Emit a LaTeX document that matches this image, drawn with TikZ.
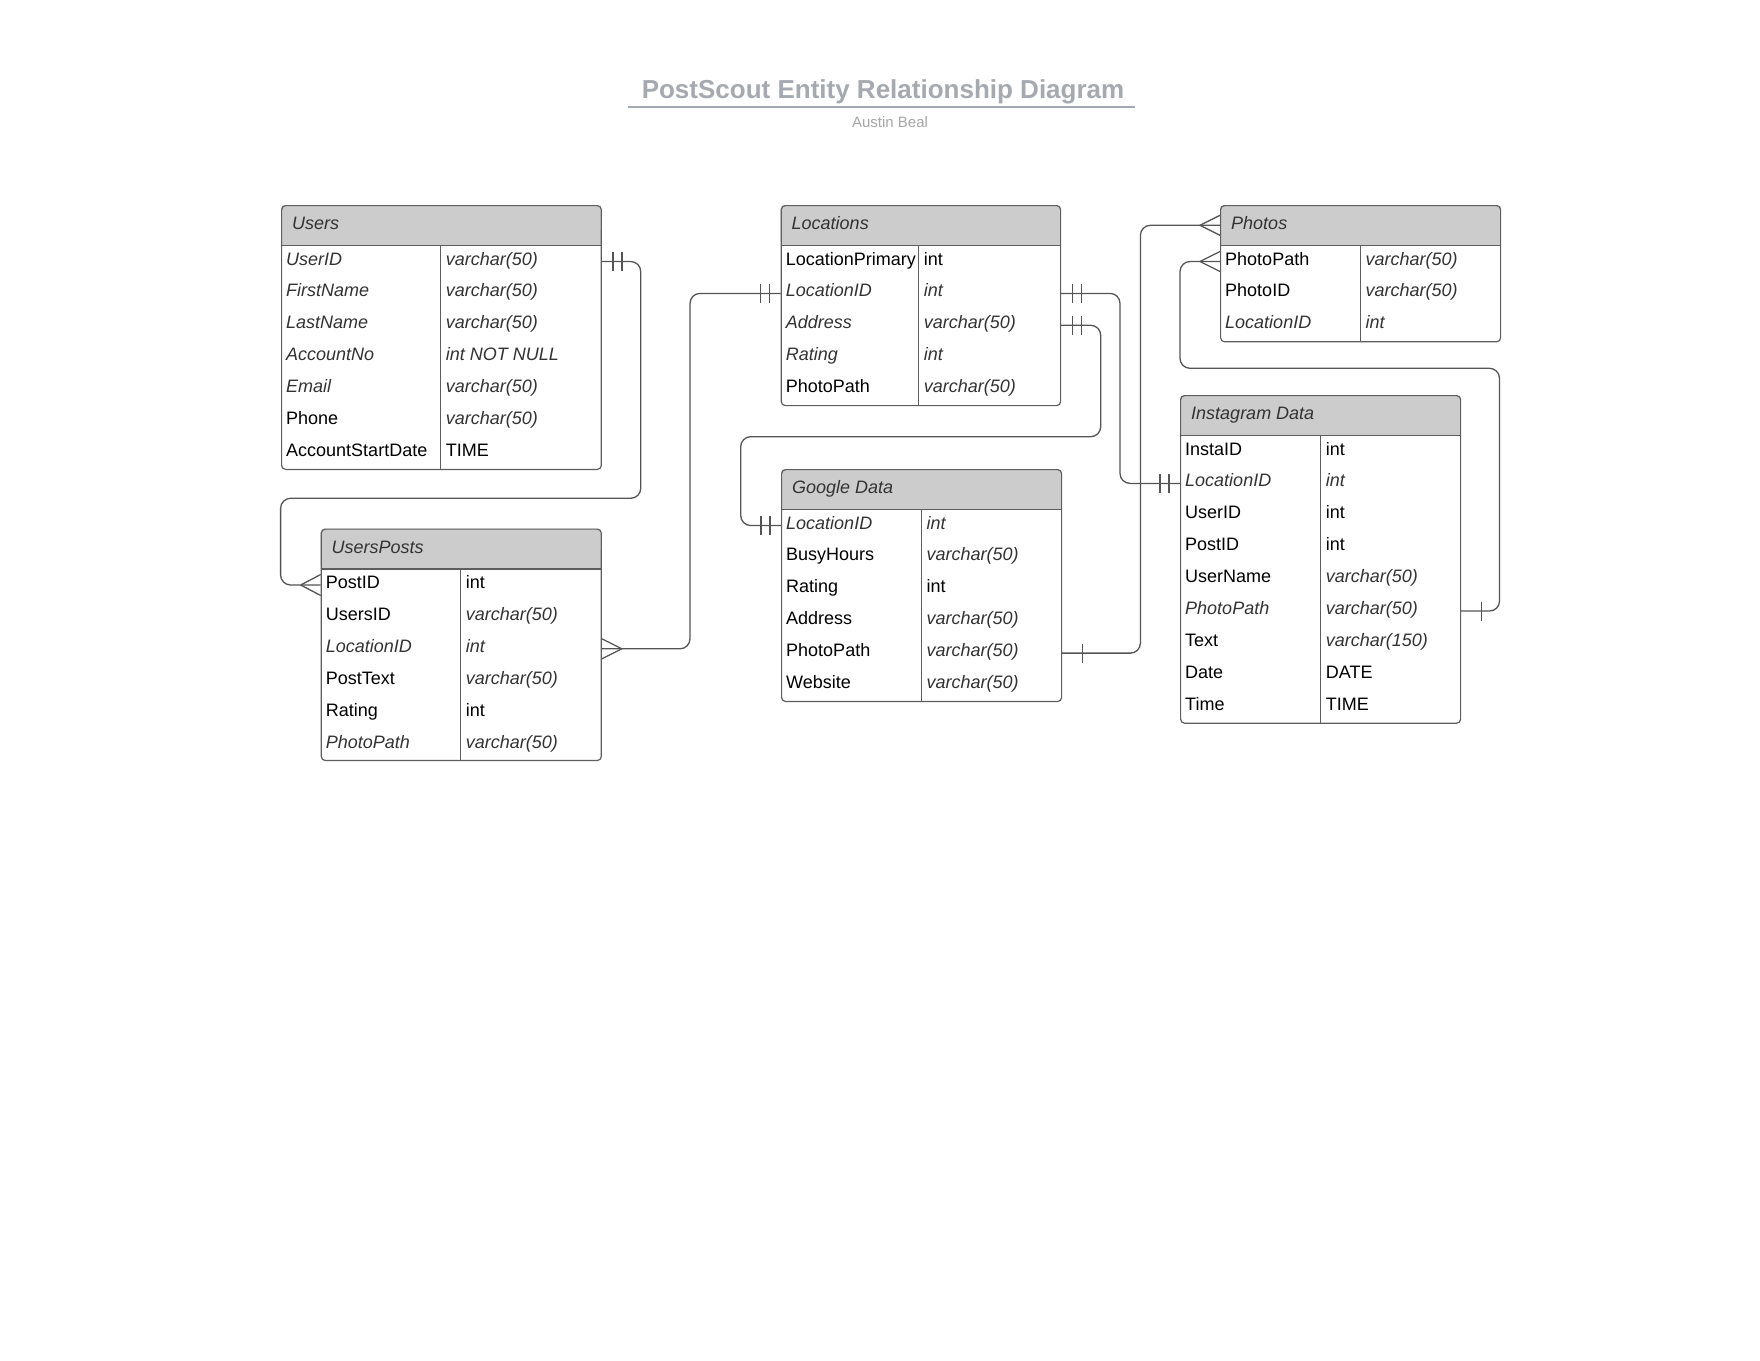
\documentclass[tikz,border=0pt]{standalone}
\usepackage{fontspec}
\setmainfont{Liberation Sans}
\begin{document}
\begin{tikzpicture}[x=1pt, y=-1pt,
  tbl/.style={draw=framecol, line width=1.2pt, rounded corners=4pt, anchor=north west, inner sep=0pt},
  hdr/.style={anchor=west, inner sep=0pt, text height=13pt, text depth=4.5pt, text=hdrtext, font=\fontsize{18}{20}\selectfont\itshape},
  fld/.style={anchor=west, inner sep=0pt, text height=13pt, text depth=6pt, text=black, font=\fontsize{18}{20}\selectfont},
  fldi/.style={fld, text=itext, font=\fontsize{18}{20}\selectfont\itshape},
  sep/.style={draw=framecol, line width=1.2pt},
  rel/.style={draw=relcol, line width=1.3pt, rounded corners=10pt},
  endln/.style={draw=relcol, line width=1.3pt}]
\definecolor{framecol}{HTML}{5E5E5E}
\definecolor{hdrfill}{HTML}{CCCCCC}
\definecolor{hdrtext}{HTML}{333333}
\definecolor{itext}{HTML}{333333}
\definecolor{relcol}{HTML}{555555}
\definecolor{titlecol}{HTML}{A5A9B0}
\definecolor{subcol}{HTML}{A6A6A6}
\fill[white] (0,0) rectangle (1760,1360);
\useasboundingbox (0,0) rectangle (1760,1360);
\node[anchor=base, inner sep=0pt, text=titlecol, font=\fontsize{26}{30}\selectfont\bfseries] (title) at (883,98.8) {PostScout Entity Relationship Diagram};
\draw[titlecol, line width=2pt] (628,107.3) -- (1135,107.3);
\node[anchor=base, inner sep=0pt, text=subcol, font=\fontsize{15}{17}\selectfont] (author) at (890,127.8) {Austin Beal};
\fill[hdrfill, rounded corners=4pt] (281,205) rectangle (600.7,245.5); \fill[hdrfill] (281,230) rectangle (600.7,245.5);
\node[tbl, minimum width=319.7pt, minimum height=263.8pt] (users) at (281,205) {};
\draw[sep] (281,245.5) -- (600.7,245.5) (440.7,245.5) -- (440.7,468.8);
\node[hdr] (users-title) at (292,225.3) {Users};
\node[fldi] (users-userid) at (286,261.5) {UserID}; \node[fldi] (users-userid-t) at (445.7,261.5) {varchar(50)};
\node[fldi] (users-first) at (286,293.4) {FirstName}; \node[fldi] (users-first-t) at (445.7,293.4) {varchar(50)};
\node[fldi] (users-last) at (286,325.3) {LastName}; \node[fldi] (users-last-t) at (445.7,325.3) {varchar(50)};
\node[fldi] (users-acc) at (286,357.2) {AccountNo}; \node[fldi] (users-acc-t) at (445.7,357.2) {int NOT NULL};
\node[fldi] (users-email) at (286,389.1) {Email}; \node[fldi] (users-email-t) at (445.7,389.1) {varchar(50)};
\node[fld] (users-phone) at (286,421) {Phone}; \node[fldi] (users-phone-t) at (445.7,421) {varchar(50)};
\node[fld] (users-start) at (286,452.9) {AccountStartDate}; \node[fld] (users-start-t) at (445.7,452.9) {TIME};
\fill[hdrfill, rounded corners=4pt] (320.7,528.5) rectangle (600.7,569); \fill[hdrfill] (320.7,550) rectangle (600.7,569);
\node[tbl, minimum width=280pt, minimum height=231.4pt] (posts) at (320.7,528.5) {};
\draw[sep] (320.7,569) -- (600.7,569) (460.7,569) -- (460.7,759.9);
\node[hdr] (posts-title) at (331.5,548.8) {UsersPosts};
\node[fld] (posts-postid) at (325.7,585) {PostID}; \node[fld] (posts-postid-t) at (465.7,585) {int};
\node[fld] (posts-usersid) at (325.7,616.9) {UsersID}; \node[fldi] (posts-usersid-t) at (465.7,616.9) {varchar(50)};
\node[fldi] (posts-locid) at (325.7,648.8) {LocationID}; \node[fldi] (posts-locid-t) at (465.7,648.8) {int};
\node[fld] (posts-text) at (325.7,680.7) {PostText}; \node[fldi] (posts-text-t) at (465.7,680.7) {varchar(50)};
\node[fld] (posts-rating) at (325.7,712.6) {Rating}; \node[fld] (posts-rating-t) at (465.7,712.6) {int};
\node[fldi] (posts-photo) at (325.7,744.5) {PhotoPath}; \node[fldi] (posts-photo-t) at (465.7,744.5) {varchar(50)};
\fill[hdrfill, rounded corners=4pt] (780.7,205) rectangle (1060,245.5); \fill[hdrfill] (780.7,230) rectangle (1060,245.5);
\node[tbl, minimum width=279.3pt, minimum height=200pt] (loc) at (780.7,205) {};
\draw[sep] (780.7,245.5) -- (1060,245.5) (918.7,245.5) -- (918.7,405);
\node[hdr] (loc-title) at (791.5,225.3) {Locations};
\node[fld] (loc-primary) at (785.7,261.5) {LocationPrimary}; \node[fld] (loc-primary-t) at (923.7,261.5) {int};
\node[fldi] (loc-locid) at (785.7,293.4) {LocationID}; \node[fldi] (loc-locid-t) at (923.7,293.4) {int};
\node[fldi] (loc-address) at (785.7,325.3) {Address}; \node[fldi] (loc-address-t) at (923.7,325.3) {varchar(50)};
\node[fldi] (loc-rating) at (785.7,357.2) {Rating}; \node[fldi] (loc-rating-t) at (923.7,357.2) {int};
\node[fld] (loc-photo) at (785.7,389.1) {PhotoPath}; \node[fldi] (loc-photo-t) at (923.7,389.1) {varchar(50)};
\fill[hdrfill, rounded corners=4pt] (781,469) rectangle (1061,509.5); \fill[hdrfill] (781,490) rectangle (1061,509.5);
\node[tbl, minimum width=280pt, minimum height=231.9pt] (google) at (781,469) {};
\draw[sep] (781,509.5) -- (1061,509.5) (921.3,509.5) -- (921.3,700.9);
\node[hdr] (google-title) at (792,489.3) {Google Data};
\node[fldi] (google-locid) at (786,525.5) {LocationID}; \node[fldi] (google-locid-t) at (926.3,525.5) {int};
\node[fld] (google-busy) at (786,557.4) {BusyHours}; \node[fldi] (google-busy-t) at (926.3,557.4) {varchar(50)};
\node[fld] (google-rating) at (786,589.3) {Rating}; \node[fld] (google-rating-t) at (926.3,589.3) {int};
\node[fld] (google-address) at (786,621.2) {Address}; \node[fldi] (google-address-t) at (926.3,621.2) {varchar(50)};
\node[fld] (google-photopath) at (786,653.1) {PhotoPath}; \node[fldi] (google-photopath-t) at (926.3,653.1) {varchar(50)};
\node[fld] (google-web) at (786,685) {Website}; \node[fldi] (google-web-t) at (926.3,685) {varchar(50)};
\fill[hdrfill, rounded corners=4pt] (1220,205) rectangle (1500,245.5); \fill[hdrfill] (1220,230) rectangle (1500,245.5);
\node[tbl, minimum width=280pt, minimum height=136.2pt] (photos) at (1220,205) {};
\draw[sep] (1220,245.5) -- (1500,245.5) (1360.3,245.5) -- (1360.3,341.2);
\node[hdr] (photos-title) at (1231,225.3) {Photos};
\node[fld] (photos-photopath) at (1225,261.5) {PhotoPath}; \node[fldi] (photos-photopath-t) at (1365.3,261.5) {varchar(50)};
\node[fld] (photos-photoid) at (1225,293.4) {PhotoID}; \node[fldi] (photos-photoid-t) at (1365.3,293.4) {varchar(50)};
\node[fldi] (photos-locid) at (1225,325.3) {LocationID}; \node[fldi] (photos-locid-t) at (1365.3,325.3) {int};
\fill[hdrfill, rounded corners=4pt] (1180,395) rectangle (1460,435.5); \fill[hdrfill] (1180,420) rectangle (1460,435.5);
\node[tbl, minimum width=280pt, minimum height=327.6pt] (insta) at (1180,395) {};
\draw[sep] (1180,435.5) -- (1460,435.5) (1320.7,435.5) -- (1320.7,722.6);
\node[hdr] (insta-title) at (1191,415.3) {Instagram Data};
\node[fld] (insta-instaid) at (1185,451.5) {InstaID}; \node[fld] (insta-instaid-t) at (1325.7,451.5) {int};
\node[fldi] (insta-locid) at (1185,483.4) {LocationID}; \node[fldi] (insta-locid-t) at (1325.7,483.4) {int};
\node[fld] (insta-userid) at (1185,515.3) {UserID}; \node[fld] (insta-userid-t) at (1325.7,515.3) {int};
\node[fld] (insta-postid) at (1185,547.2) {PostID}; \node[fld] (insta-postid-t) at (1325.7,547.2) {int};
\node[fld] (insta-username) at (1185,579.1) {UserName}; \node[fldi] (insta-username-t) at (1325.7,579.1) {varchar(50)};
\node[fldi] (insta-photopath) at (1185,611) {PhotoPath}; \node[fldi] (insta-photopath-t) at (1325.7,611) {varchar(50)};
\node[fld] (insta-text) at (1185,642.9) {Text}; \node[fldi] (insta-text-t) at (1325.7,642.9) {varchar(150)};
\node[fld] (insta-date) at (1185,674.8) {Date}; \node[fld] (insta-date-t) at (1325.7,674.8) {DATE};
\node[fld] (insta-time) at (1185,706.7) {Time}; \node[fld] (insta-time-t) at (1325.7,706.7) {TIME};
\coordinate (a1) at (users.east |- users-userid); \coordinate (a2) at (posts.west |- posts-postid);
\coordinate (b1) at (posts.east |- posts-locid); \coordinate (b2) at (loc.west |- loc-locid);
\coordinate (c1) at (loc.east |- loc-locid); \coordinate (c2) at (insta.west |- insta-locid);
\coordinate (d1) at (loc.east |- loc-address); \coordinate (d2) at (google.west |- google-locid);
\coordinate (e1) at (google.east |- google-photopath); \coordinate (e2) at (photos.west |- photos-title);
\coordinate (f1) at (insta.east |- insta-photopath); \coordinate (f2) at (photos.west |- photos-photopath);
\draw[rel] (a1) -| (640.7,498.3) -| (280.6,540) |- (a2);
\draw[rel] (b1) -| (690,450) |- (b2);
\draw[rel] (c1) -| (1120,400) |- (c2);
\draw[rel] (d1) -| (1100.7,436.7) -| (740.7,480) |- (d2);
\draw[rel] (e1) -| (1140.4,400) |- (e2);
\draw[rel] (f1) -| (1499.5,368.3) -| (1180,300) |- (f2);
\draw[endln] (a1) ++(11,-9.5) -- ++(0,19) (a1) ++(20,-9.5) -- ++(0,19);
\draw[endln] (a2) ++(-20,0) -- ++(20,-10.5) (a2) ++(-20,0) -- ++(20,10.5);
\draw[endln] (b1) ++(20,0) -- ++(-20,-10) (b1) ++(20,0) -- ++(-20,10);
\draw[endln] (b2) ++(-11,-9.5) -- ++(0,19) (b2) ++(-20,-9.5) -- ++(0,19);
\draw[endln] (c1) ++(11,-9.5) -- ++(0,19) (c1) ++(20,-9.5) -- ++(0,19);
\draw[endln] (c2) ++(-11,-9.5) -- ++(0,19) (c2) ++(-20,-9.5) -- ++(0,19);
\draw[endln] (d1) ++(11,-9.5) -- ++(0,19) (d1) ++(20,-9.5) -- ++(0,19);
\draw[endln] (d2) ++(-11,-9.5) -- ++(0,19) (d2) ++(-20,-9.5) -- ++(0,19);
\draw[endln] (e1) ++(20,-9.5) -- ++(0,19);
\draw[endln] (e2) ++(-20,0) -- ++(20,-10) (e2) ++(-20,0) -- ++(20,10);
\draw[endln] (f1) ++(20,-9.5) -- ++(0,19);
\draw[endln] (f2) ++(-20,0) -- ++(20,-10) (f2) ++(-20,0) -- ++(20,10);
\end{tikzpicture}
\end{document}
